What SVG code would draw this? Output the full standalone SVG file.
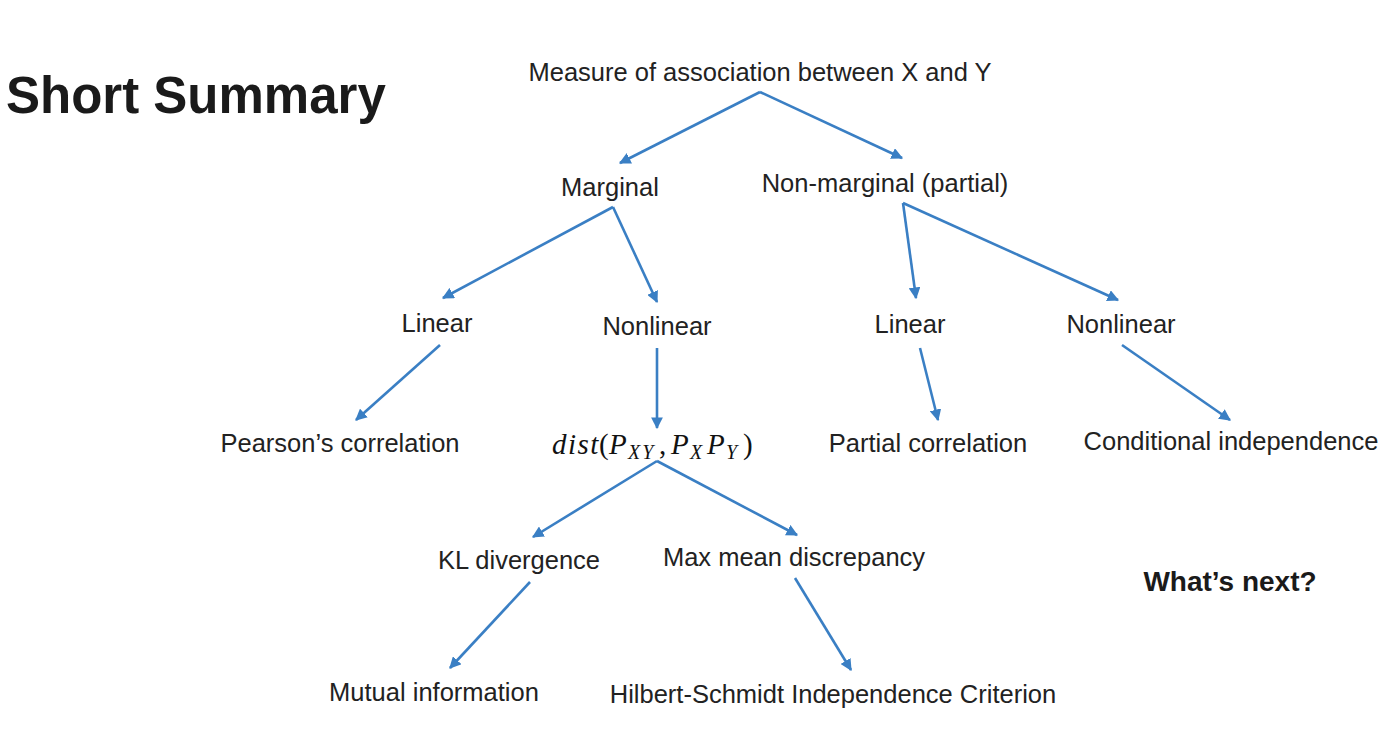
<svg xmlns="http://www.w3.org/2000/svg" width="1400" height="736" viewBox="0 0 1400 736">
<style>
.t{font-family:"Liberation Sans",Arial,sans-serif;font-size:25.5px;fill:#222;text-anchor:middle}
.b{font-family:"Liberation Sans",Arial,sans-serif;font-weight:bold;fill:#1a1a1a}
.m{font-family:"Liberation Serif","Times New Roman",serif;font-style:italic;font-size:29px;fill:#111}
.m .s{font-size:20px}
.m .n{font-style:normal}
.c line{stroke:#3a7fc4;stroke-width:2.6;marker-end:url(#ah)}
</style>
<defs>
<marker id="ah" viewBox="0 0 10 10" refX="9" refY="5" markerWidth="4.5" markerHeight="4.5" orient="auto" markerUnits="strokeWidth">
<path d="M0,0 L10,5 L0,10 z" fill="#3a7fc4"/>
</marker>
</defs>
<rect width="1400" height="736" fill="#fff"/>
<g id="title"><text class="b" x="6" y="113" font-size="51">Short Summary</text></g>
<g id="root"><text class="t" x="760" y="81">Measure of association between X and Y</text></g>
<g id="marginal"><text class="t" x="610" y="196">Marginal</text></g>
<g id="nonmarginal"><text class="t" x="885" y="192">Non-marginal (partial)</text></g>
<g id="linear1"><text class="t" x="437" y="332">Linear</text></g>
<g id="nonlinear1"><text class="t" x="657" y="335">Nonlinear</text></g>
<g id="linear2"><text class="t" x="910" y="333">Linear</text></g>
<g id="nonlinear2"><text class="t" x="1121" y="333">Nonlinear</text></g>
<g id="pearson"><text class="t" x="340" y="452">Pearson’s correlation</text></g>
<g id="dist"><text class="m" y="454"><tspan x="552" letter-spacing="1.5">dist</tspan><tspan class="n" x="599">(</tspan><tspan x="609">P</tspan><tspan class="s" x="628" y="459" letter-spacing="2">XY</tspan><tspan class="n" x="659" y="454">,</tspan><tspan x="671">P</tspan><tspan class="s" x="690" y="459">X</tspan><tspan x="707" y="454">P</tspan><tspan class="s" x="726" y="459">Y</tspan><tspan class="n" x="743" y="454">)</tspan></text></g>
<g id="partial"><text class="t" x="928" y="452">Partial correlation</text></g>
<g id="condind"><text class="t" x="1231" y="450">Conditional independence</text></g>
<g id="kl"><text class="t" x="519" y="569">KL divergence</text></g>
<g id="mmd"><text class="t" x="794" y="566">Max mean discrepancy</text></g>
<g id="next"><text class="b" x="1230" y="591" font-size="28" text-anchor="middle" fill="#333">What’s next?</text></g>
<g id="mi"><text class="t" x="434" y="701">Mutual information</text></g>
<g id="hsic"><text class="t" x="833" y="703">Hilbert-Schmidt Independence Criterion</text></g>
<g id="connectors" class="c">
<line x1="760" y1="92" x2="620" y2="163"/>
<line x1="760" y1="92" x2="902" y2="158"/>
<line x1="613" y1="207" x2="443" y2="298"/>
<line x1="613" y1="207" x2="657" y2="302"/>
<line x1="903" y1="203" x2="916" y2="298"/>
<line x1="903" y1="203" x2="1118" y2="300"/>
<line x1="440" y1="345" x2="356" y2="420"/>
<line x1="657" y1="348" x2="657" y2="428"/>
<line x1="920" y1="348" x2="938" y2="420"/>
<line x1="1122" y1="345" x2="1230" y2="420"/>
<line x1="657" y1="461" x2="533" y2="537"/>
<line x1="657" y1="461" x2="797" y2="535"/>
<line x1="530" y1="582" x2="450" y2="668"/>
<line x1="795" y1="578" x2="851" y2="670"/>
</g>
</svg>
